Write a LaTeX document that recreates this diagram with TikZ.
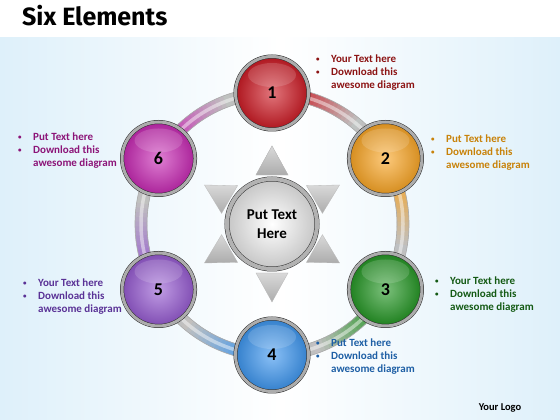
\documentclass[tikz,border=0pt]{standalone}
\usepackage{fontspec}
\setmainfont{Carlito}
\newfontfamily\headfont{Fira Sans}
\usetikzlibrary{positioning}

\definecolor{redball}{RGB}{205,25,35}
\definecolor{orangeball}{RGB}{250,165,35}
\definecolor{greenball}{RGB}{35,150,35}
\definecolor{blueball}{RGB}{60,150,240}
\definecolor{purpleball}{RGB}{150,90,210}
\definecolor{pinkball}{RGB}{200,40,180}
\definecolor{txtred}{RGB}{140,20,20}
\definecolor{txtorange}{RGB}{200,130,10}
\definecolor{txtgreen}{RGB}{20,90,20}
\definecolor{txtblue}{RGB}{30,95,165}
\definecolor{txtpurple}{RGB}{90,50,150}
\definecolor{txtpink}{RGB}{140,20,120}
\definecolor{paleblue}{RGB}{222,240,250}
\colorlet{tube}{gray!50}

\newcommand{\txtlines}[1]{\makebox[15pt][l]{\raisebox{1pt}{\scriptsize\textbullet}}#1\\
  \makebox[15pt][l]{\raisebox{1pt}{\scriptsize\textbullet}}Download this\\
  \hspace*{15pt}awesome diagram}

\tikzset{
  ballnode/.style={circle, minimum size=73pt, inner sep=0pt, shade,
    inner color=#1!60!white, outer color=#1!85!black,
    draw=gray!35!black, double=gray!65, double distance=3pt, line width=.5pt,
    font=\bfseries\fontsize{18}{18}\selectfont,
    path picture={\fill[white, opacity=.15] ([yshift=18pt]path picture bounding box.center) ellipse[x radius=24pt, y radius=12pt];}},
  sidetext/.style={anchor=north west, inner sep=0pt, align=left, text=#1,
    font=\bfseries\fontsize{11}{13}\selectfont},
  spike/.style={shade, top color=gray!30, bottom color=gray!65, draw=gray!55, line width=.3pt}
}

\begin{document}
\begin{tikzpicture}[x=1pt,y=1pt]
\useasboundingbox (0,0) rectangle (560,420);
% background
\shade[left color=paleblue, right color=paleblue, middle color=white] (0,0) rectangle (560,382);
\node[anchor=base west, inner sep=0pt, font=\headfont\bfseries\fontsize{25}{25}\selectfont] (title) at (22,394) {Six Elements};

\begin{scope}[shift={(272,196)}]
  \coordinate (o) at (0,0);
  % ring
  \draw[tube, line width=12pt] (o) circle[radius=131];
  \foreach \a/\c in {90/redball,30/orangeball,-30/greenball,-90/blueball,-150/purpleball,150/pinkball}{
    \foreach \s in {0,...,12}{
      \pgfmathtruncatemacro\p{70-6*\s}
      \draw[\c!\p!tube, line width=12pt] (\a-15-2*\s:131) arc[start angle=\a-15-2*\s, end angle=\a-17.5-2*\s, radius=131];
    }
  }
  \draw[gray!65, line width=.6pt] (o) circle[radius=125] (o) circle[radius=137];
  \draw[white, opacity=.45, line width=3.5pt] (o) circle[radius=131];

  % spikes round the hub
  \foreach \a in {90,150,...,450}
    \draw[spike, rotate=\a] (78,0) -- (49,16) -- (49,-16) -- cycle;

  \node[circle, minimum size=90pt, shade, inner color=white, outer color=gray!45,
    draw=gray!40!black, double=gray!60, double distance=4pt, line width=.5pt,
    align=center, font=\bfseries\fontsize{15}{19}\selectfont] (hub) at (o) {Put Text\\Here};

  \node[ballnode=redball] (c1) at (90:131) {1};
  \node[ballnode=orangeball] (c2) at (30:131) {2};
  \node[ballnode=greenball] (c3) at (-30:131) {3};
  \node[ballnode=blueball] (c4) at (-90:131) {4};
  \node[ballnode=purpleball] (c5) at (-150:131) {5};
  \node[ballnode=pinkball] (c6) at (150:131) {6};
\end{scope}

% side texts
\node[sidetext=txtred] (t1) at (316,365) {\txtlines{Your Text here}};
\node[sidetext=txtorange] (t2) at (431,285) {\txtlines{Put Text here}};
\node[sidetext=txtgreen] (t3) at (435,143) {\txtlines{Your Text here}};
\node[sidetext=txtblue] (t4) at (316,81) {\txtlines{Put Text here}};
\node[sidetext=txtpurple] (t5) at (23,141) {\txtlines{Your Text here}};
\node[sidetext=txtpink] (t6) at (18,287) {\txtlines{Put Text here}};

\node[font=\bfseries\fontsize{10.5}{12}\selectfont] (logo) at (500,12) {Your Logo};
\end{tikzpicture}
\end{document}
